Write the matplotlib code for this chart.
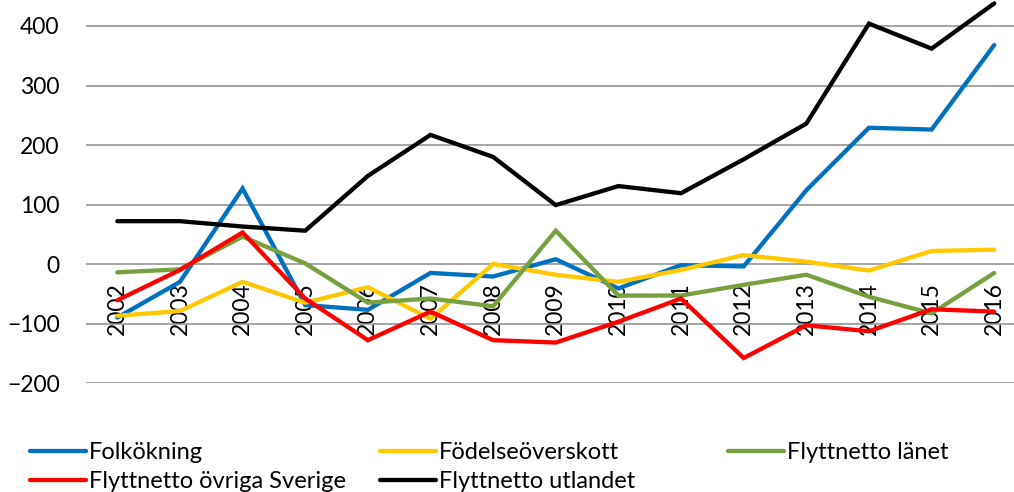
import matplotlib
matplotlib.use("Agg")
import matplotlib.pyplot as plt
import numpy as np

plt.rcParams["font.family"] = ["Lato", "DejaVu Sans"]

years = ["2002", "2003", "2004", "2005", "2006", "2007", "2008", "2009",
         "2010", "2011", "2012", "2013", "2014", "2015", "2016"]

folkokning = [-90, -30, 127, -69, -77, -15, -21, 8, -41, -2, -4, 124, 229, 226, 368]
fodelseoverskott = [-87, -79, -30, -65, -39, -92, 0, -18, -30, -10, 15, 4, -11, 22, 24]
flyttnetto_lanet = [-14, -9, 46, 1, -65, -58, -71, 56, -53, -53, -35, -18, -55, -83, -15]
flyttnetto_ovriga = [-61, -10, 53, -58, -128, -80, -128, -132, -97, -58, -158, -103, -113, -76, -80]
flyttnetto_utlandet = [72, 72, 63, 56, 148, 217, 180, 99, 131, 119, 176, 236, 404, 362, 438]

series = [
    ("Folkökning", folkokning, "#0070C0"),
    ("Födelseöverskott", fodelseoverskott, "#FFC800"),
    ("Flyttnetto länet", flyttnetto_lanet, "#77A03F"),
    ("Flyttnetto övriga Sverige", flyttnetto_ovriga, "#FF0000"),
    ("Flyttnetto utlandet", flyttnetto_utlandet, "#000000"),
]

fig = plt.figure(figsize=(10.14, 4.92), dpi=100)
ax = fig.add_axes([0.0848, 0.2215, 0.9266, 0.8466])

x = np.arange(len(years))
lines = {}
for name, vals, color in series:
    (ln,) = ax.plot(x, vals, color=color, lw=3.1, solid_capstyle="round",
                    solid_joinstyle="miter", label=name, zorder=3)
    lines[name] = ln

ax.set_xlim(-0.5, len(years) - 0.5)
ax.set_ylim(-200, 500)
ax.set_yticks(range(-200, 401, 100))
ax.yaxis.grid(True, color="#8c8c8c", lw=1.1)
ax.set_axisbelow(True)

for s in ax.spines.values():
    s.set_visible(False)
ax.spines["bottom"].set_position(("data", 0))

ax.set_xticks(x)
ax.set_xticklabels(years, rotation=90)
ax.tick_params(axis="x", length=0, pad=13, labelsize=16.5)
ax.tick_params(axis="y", length=0, pad=19, labelsize=16.5)

# legend in three equally spaced columns, like the original
cols = [
    (0.0296, ["Folkökning", "Flyttnetto övriga Sverige"]),
    (0.375, ["Födelseöverskott", "Flyttnetto utlandet"]),
    (0.718, ["Flyttnetto länet"]),
]
for xpos, names in cols:
    fig.legend([lines[n] for n in names], names, loc="upper left",
               bbox_to_anchor=(xpos, 0.102), frameon=False, fontsize=17,
               borderpad=0, borderaxespad=0, handlelength=2.35,
               handletextpad=0.15, labelspacing=0.35)

fig.savefig("out.png", dpi=100)
